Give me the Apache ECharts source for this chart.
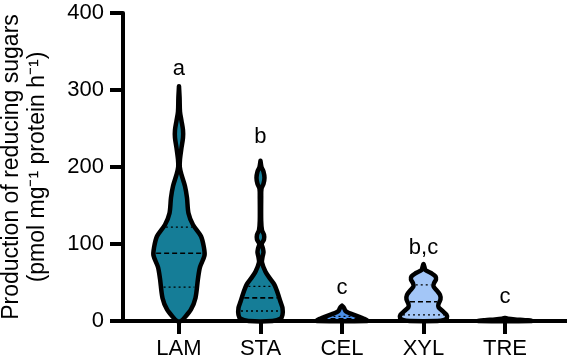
<!DOCTYPE html>
<html>
<head>
<meta charset="utf-8">
<script src="https://cdn.jsdelivr.net/npm/echarts@6/dist/echarts.min.js"></script>
<style>
  html, body { margin: 0; padding: 0; background: #fff; }
  #chart { width: 567px; height: 364px; }
</style>
</head>
<body>
<div id="chart"></div>
<script>
// categories and violin outlines
const categories = ['LAM', 'STA', 'CEL', 'XYL', 'TRE'];

// [value, relative density] from top of violin to bottom
const lamProfile = [[305, 0], [290, 0.6], [272, 1], [260, 2.5], [248, 4], [238, 4], [225, 2.5], [210, 1],
  [200, 0.8], [190, 2.5], [175, 6], [160, 8], [140, 9.5], [125, 14], [110, 22], [95, 25], [85, 25.5],
  [70, 21], [55, 19], [30, 16.5], [15, 12], [5, 6], [0, 2]];
const staProfile = [[208, 0], [200, 1], [194, 3], [186, 4], [178, 3], [172, 1], [160, 0.7], [130, 0.7],
  [118, 1.5], [112, 3.5], [106, 3.5], [100, 1.2], [94, 2.5], [89, 3], [83, 2], [76, 1.5], [64, 5],
  [56, 9], [47, 14], [37, 17], [25, 20], [17, 22], [8, 22], [3, 20], [0, 12]];
const celProfile = [[20, 0], [17, 2], [13, 3.5], [11, 6], [9, 10], [7, 14], [5, 18], [3, 22], [1, 25], [0, 25]];
const xylProfile = [[74, 0], [70, 1], [66, 2], [62, 8], [58, 12], [54, 12.5], [49, 10.5], [45, 10],
  [40, 13], [34, 16.5], [28, 17], [22, 15], [18, 15], [13, 19], [8, 23], [4, 23.5], [1, 20], [0, 14]];
const treProfile = [[4, 0], [3, 3], [2, 10], [1, 20], [0, 27]];

const q1Values = [44, 13, 1, 8, 0.5];
const medianValues = [88, 30, 3, 25, 1];
const q3Values = [122, 45, 6, 47, 2];

const sigLetters = ['a', 'b', 'c', 'b,c', 'c'];
const sigValues = [328, 239, 43, 95, 31];

const profiles = [lamProfile, staProfile, celProfile, xylProfile, treProfile];
const fills = ['#157d97', '#157d97', '#4a8fe6', '#a3c6f7', '#a3c6f7'];
const widthScale = 1 / 81.5;

function widthAt(profile, v) {
  for (let i = 0; i < profile.length - 1; i++) {
    const a = profile[i], b = profile[i + 1];
    if (v <= a[0] && v >= b[0]) {
      const t = (a[0] - v) / (a[0] - b[0] || 1);
      return a[1] + (b[1] - a[1]) * t;
    }
  }
  return 0;
}

function renderViolin(params, api) {
  const idx = api.value(0);
  const profile = profiles[idx];
  const left = profile.map(p => api.coord([idx - p[1] * widthScale, p[0]]));
  const right = profile.slice().reverse().map(p => api.coord([idx + p[1] * widthScale, p[0]]));
  const children = [{
    type: 'polygon',
    shape: { points: left.concat(right), smooth: 0.3 },
    style: { fill: fills[idx], stroke: '#000', lineWidth: 4.5, lineJoin: 'round' }
  }];
  const lines = [[q1Values[idx], [2, 3], 1.3], [medianValues[idx], [5, 3], 1.6], [q3Values[idx], [2, 3], 1.3]];
  lines.forEach(function (q) {
    const w = Math.max(widthAt(profile, q[0]) - 2.5, 0) * widthScale;
    const a = api.coord([idx - w, q[0]]);
    const b = api.coord([idx + w, q[0]]);
    children.push({
      type: 'line',
      shape: { x1: a[0], y1: a[1], x2: b[0], y2: b[1] },
      style: { stroke: '#000', lineWidth: q[2], lineDash: q[1] }
    });
  });
  const t = api.coord([idx, sigValues[idx]]);
  children.push({
    type: 'text',
    style: { text: sigLetters[idx], x: t[0], y: t[1], fill: '#000', font: '22px "Liberation Sans", Arial, sans-serif', align: 'center', verticalAlign: 'middle' }
  });
  return { type: 'group', children: children };
}

var myChart = echarts.init(document.getElementById('chart'));
var option = {
  animation: false,
  textStyle: { fontFamily: '"Liberation Sans", Arial, sans-serif' },
  grid: { left: 123, right: 0, top: 13, bottom: 43, containLabel: false, outerBoundsMode: 'none' },
  xAxis: {
    type: 'value',
    min: -0.687,
    max: 4.761,
    axisLine: { lineStyle: { color: '#000', width: 4 } },
    axisTick: { customValues: [0, 1, 2, 3, 4], length: 13, lineStyle: { color: '#000', width: 4 } },
    axisLabel: { customValues: [0, 1, 2, 3, 4], formatter: v => categories[v], color: '#000', fontSize: 22, margin: 17 },
    splitLine: { show: false }
  },
  yAxis: {
    type: 'value',
    min: 0,
    max: 400,
    interval: 100,
    axisLine: { show: true, onZero: false, lineStyle: { color: '#000', width: 4 } },
    axisTick: { show: true, length: 13, lineStyle: { color: '#000', width: 4 } },
    axisLabel: { color: '#000', fontSize: 22, margin: 19 },
    splitLine: { show: false },
    name: 'Production of reducing sugars\n(pmol mg\u207b\u00b9 protein h\u207b\u00b9)',
    nameLocation: 'middle',
    nameRotate: 90,
    nameGap: 72,
    nameTextStyle: { color: '#000', fontSize: 23, lineHeight: 26 }
  },
  series: [{
    type: 'custom',
    renderItem: renderViolin,
    data: categories.map((c, i) => [i]),
    z: 1
  }]
};
option && myChart.setOption(option);
</script>
</body>
</html>
